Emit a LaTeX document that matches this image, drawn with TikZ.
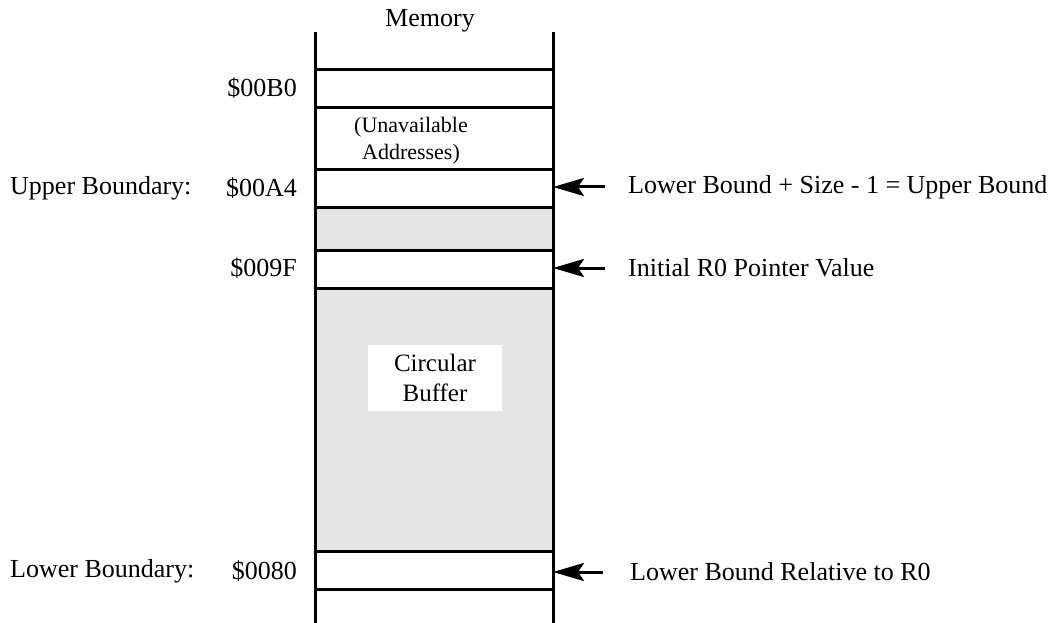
\documentclass[tikz,border=0pt]{standalone}
\usepackage{fontspec}
\setmainfont{Liberation Serif}
\usetikzlibrary{arrows.meta}
\begin{document}
\begin{tikzpicture}[x=1pt,y=-1pt,
  cell/.style={draw=black,line width=3pt,minimum width=238pt,inner sep=0pt,outer sep=0pt},
  grey/.style={cell,fill=black!10},
  lbl/.style={inner sep=0pt,font=\fontsize{26}{30}\selectfont},
  small/.style={inner sep=0pt,align=center,font=\fontsize{22}{27}\selectfont},
  arr/.style={line width=3pt,-{Stealth[length=31pt,width=18pt,inset=6pt]}}]
\useasboundingbox (0,0) rectangle (1061,623);
% cells
\node[cell,minimum height=38pt] (b0) at (434,89) {};
\node[cell,minimum height=62pt] (un) at (434,139) {};
\node[cell,minimum height=38pt] (a4) at (434,189) {};
\node[grey,minimum height=42pt] (g1) at (434,229) {};
\node[cell,minimum height=38pt] (f9) at (434,269) {};
\node[grey,minimum height=263pt] (g2) at (434,419.5) {};
\node[cell,minimum height=38pt] (lo) at (434,570) {};
% column sides
\coordinate (tl) at (315,32);
\coordinate (tr) at (553,32);
\coordinate (bl) at (315,623);
\coordinate (br) at (553,623);
\draw[line width=3pt] (tl) -- (bl);
\draw[line width=3pt] (tr) -- (br);
% texts
\node[lbl] (mem) at (430,21) {Memory};
\node[small] (unt) at (411,141) {(Unavailable\\Addresses)};
\node[fill=white,minimum width=134pt,minimum height=66pt,inner sep=0pt,align=center,
      font=\fontsize{25}{30}\selectfont] (cb) at (435,378) {Circular\\Buffer};
% left labels
\node[lbl,anchor=east] (ab0) at (297,88) {\$00B0};
\node[lbl,anchor=east] (aa4) at (297,188) {\$00A4};
\node[lbl,anchor=west] (ub) at (10,188) {Upper Boundary:};
\node[lbl,anchor=east] (a9f) at (297,268) {\$009F};
\node[lbl,anchor=east] (a80) at (297,571) {\$0080};
\node[lbl,anchor=west] (lb) at (10,571) {Lower Boundary:};
% right labels
\node[lbl,anchor=west] (r1) at (628,187) {Lower Bound + Size - 1 = Upper Bound};
\node[lbl,anchor=west] (r2) at (628,268) {Initial R0 Pointer Value};
\node[lbl,anchor=west] (r3) at (630,572) {Lower Bound Relative to R0};
% arrows
\draw[arr] ([xshift=-23pt]r1.west) -- (r1.west -| a4.east);
\draw[arr] ([xshift=-23pt]r2.west) -- (r2.west -| f9.east);
\draw[arr] ([xshift=-27pt]r3.west) -- (r3.west -| lo.east);
\end{tikzpicture}
\end{document}
